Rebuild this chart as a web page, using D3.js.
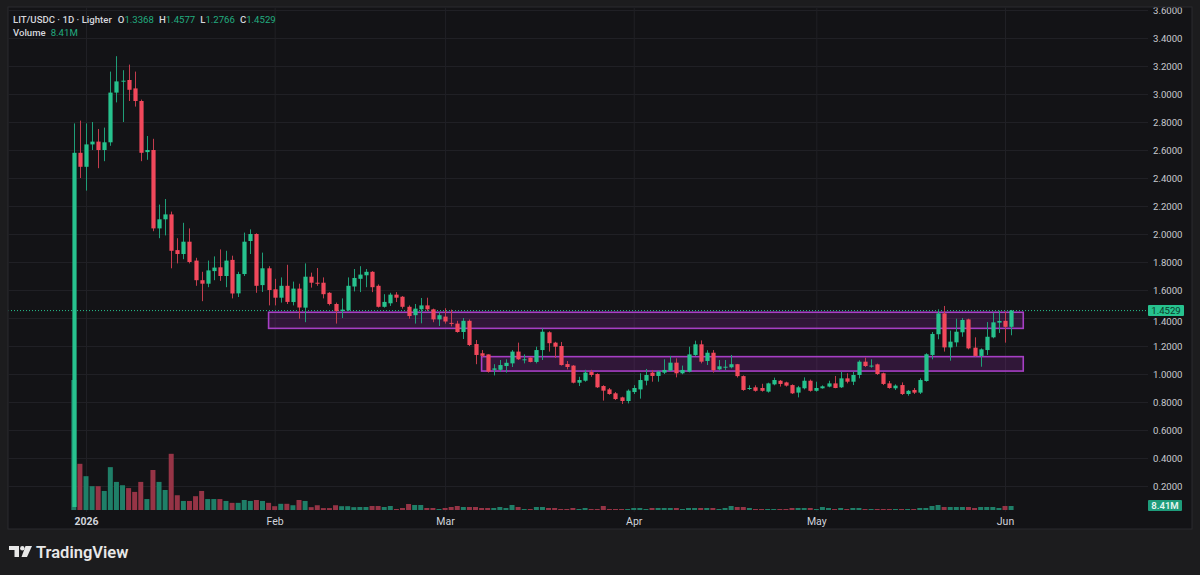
<!DOCTYPE html>
<html><head><meta charset="utf-8">
<script src="https://cdn.jsdelivr.net/npm/d3@7"></script>
<style>html,body{margin:0;padding:0;background:#1c1c1e;overflow:hidden}svg{display:block}</style>
</head><body>
<svg id="c" width="1200" height="575"></svg>
<script>
// ---------------- DATA ----------------
const firstDay = "2025-12-30"; // one candle per day from here
const openP  = [0.05,2.58,2.48,2.64,2.66,2.60,2.655,3.01,3.09,3.10,3.04,2.95,2.585,2.60,2.04,2.105,2.14,1.885,1.857,1.945,
1.81,1.67,1.645,1.735,1.762,1.70,1.815,1.576,1.714,1.95,2.0,1.635,1.755,1.605,1.545,1.63,1.514,1.61,1.474,1.695,
1.652,1.652,1.58,1.50,1.45,1.455,1.625,1.68,1.705,1.73,1.63,1.48,1.505,1.567,1.552,1.48,1.42,1.462,1.49,1.462,
1.39,1.41,1.365,1.36,1.30,1.38,1.214,1.148,1.14,1.03,1.03,1.057,1.076,1.16,1.10,1.117,1.086,1.171,1.298,1.224,
1.2,1.071,1.06,0.938,0.952,1.014,1.0,0.914,0.89,0.862,0.833,0.807,0.871,0.89,0.952,1.01,0.986,1.01,1.024,1.081,
1.005,1.017,1.136,1.212,1.093,1.152,1.033,1.047,1.048,1.07,0.985,0.895,0.905,0.90,0.874,0.926,0.952,0.94,0.921,0.867,
0.898,0.952,0.88,0.898,0.91,0.933,0.905,0.969,0.945,0.993,1.088,1.055,1.069,1.005,0.933,0.898,0.921,0.857,0.886,0.867,
0.95,1.136,1.284,1.433,1.19,1.226,1.298,1.39,1.188,1.129,1.171,1.262,1.367,1.38,1.3368];
const highP  = [2.79,2.81,2.79,2.80,2.75,2.76,3.16,3.27,3.17,3.21,3.16,2.96,2.70,2.68,2.21,2.25,2.16,1.97,2.08,2.04,
1.83,1.73,1.81,1.84,1.89,1.88,1.845,1.73,2.01,2.033,2.005,1.867,1.77,1.68,1.69,1.78,1.66,1.645,1.79,1.724,
1.757,1.69,1.585,1.51,1.54,1.69,1.75,1.77,1.75,1.735,1.64,1.57,1.58,1.585,1.557,1.49,1.50,1.543,1.545,1.467,
1.44,1.47,1.46,1.38,1.40,1.39,1.243,1.171,1.14,1.07,1.10,1.105,1.171,1.224,1.14,1.12,1.195,1.326,1.305,1.23,
1.229,1.093,1.064,0.98,1.03,1.03,1.005,0.92,0.90,0.871,0.838,0.89,0.92,1.005,1.036,1.029,1.024,1.105,1.129,1.112,
1.06,1.195,1.238,1.24,1.17,1.171,1.10,1.10,1.136,1.072,0.99,0.919,0.919,0.93,0.938,0.974,0.957,0.945,0.926,0.915,
0.976,0.96,0.945,0.919,0.952,0.986,1.016,1.005,1.016,1.098,1.117,1.105,1.074,1.01,0.95,0.926,0.94,0.886,0.90,0.969,
1.148,1.30,1.462,1.486,1.31,1.395,1.40,1.395,1.262,1.183,1.371,1.438,1.452,1.445,1.4577];
const lowP   = [0.05,2.40,2.31,2.60,2.47,2.52,2.63,2.94,2.80,2.95,2.91,2.52,2.53,2.02,1.97,1.99,1.755,1.79,1.82,1.79,
1.63,1.52,1.62,1.67,1.665,1.62,1.54,1.55,1.70,1.857,1.58,1.586,1.49,1.49,1.51,1.50,1.49,1.395,1.37,1.617,
1.63,1.54,1.49,1.36,1.40,1.45,1.59,1.585,1.62,1.585,1.475,1.474,1.486,1.514,1.467,1.395,1.36,1.362,1.45,1.37,
1.343,1.36,1.34,1.295,1.25,1.20,1.07,1.12,1.01,0.99,1.017,1.01,1.05,1.10,1.076,1.083,1.076,1.10,1.16,1.114,
1.06,1.033,0.933,0.914,0.945,0.98,0.90,0.81,0.852,0.814,0.786,0.79,0.857,0.824,0.919,0.945,0.945,1.0,1.02,0.976,
0.998,1.012,1.128,1.076,1.064,1.01,1.025,1.026,1.04,0.975,0.88,0.886,0.874,0.874,0.867,0.919,0.91,0.91,0.857,0.833,
0.89,0.874,0.874,0.895,0.905,0.898,0.90,0.933,0.921,0.969,1.05,1.045,0.993,0.921,0.895,0.886,0.85,0.845,0.857,0.857,
0.945,1.105,1.248,1.16,1.095,1.195,1.266,1.176,1.124,1.052,1.136,1.255,1.293,1.224,1.2766];
const closeP = [2.58,2.48,2.64,2.66,2.60,2.655,3.01,3.09,3.095,3.03,2.95,2.58,2.60,2.04,2.105,2.14,1.88,1.857,1.945,1.80,
1.67,1.645,1.74,1.76,1.70,1.81,1.575,1.714,1.945,2.0,1.63,1.755,1.60,1.545,1.63,1.515,1.61,1.475,1.695,1.652,
1.645,1.57,1.50,1.45,1.46,1.63,1.686,1.71,1.73,1.62,1.48,1.515,1.567,1.545,1.48,1.414,1.467,1.49,1.462,1.39,
1.42,1.375,1.358,1.30,1.38,1.207,1.136,1.13,1.017,1.04,1.064,1.08,1.16,1.105,1.105,1.086,1.171,1.302,1.22,1.195,
1.064,1.05,0.938,0.957,1.01,0.993,0.905,0.881,0.857,0.821,0.807,0.881,0.90,0.957,0.993,0.986,1.017,1.029,1.081,1.005,
1.029,1.14,1.212,1.088,1.152,1.027,1.055,1.052,1.07,0.985,0.886,0.90,0.88,0.88,0.933,0.957,0.929,0.917,0.862,0.905,
0.952,0.88,0.90,0.912,0.933,0.90,0.969,0.945,0.993,1.088,1.057,1.06,1.0,0.929,0.90,0.917,0.857,0.88,0.867,0.957,
1.141,1.286,1.433,1.19,1.231,1.302,1.386,1.183,1.129,1.176,1.266,1.369,1.379,1.3368,1.4529];
const volumeM = [273,97,71,50,50,40,90,59,52,46,38,59,23,84,59,42,118,31,19,19,
29,40,23,23,23,19,15,15,21,19,21,19,15,8,13,13,10,21,19,6,
10,4,4,10,8,8,6,6.3,6.3,8.4,8.4,6.3,8.4,2.1,4.2,12.6,10.5,10.5,4.2,4.2,
2.1,4.2,6.3,8.4,6.3,6.3,6.3,4.2,4.2,4.2,6.3,4.2,10.5,6.3,2.1,2.1,6.3,6.3,4.2,4.2,
2.1,2.1,4.2,2.1,4.2,2.1,2.1,8.4,2.1,2.1,2.1,2.1,4.2,4.2,2.1,4.2,4.2,4.2,4.2,4.2,
2.1,4.2,4.2,4.2,4.2,4.2,2.1,4.2,8.4,6.3,6.3,4.2,2.1,2.1,2.1,2.1,2.1,2.1,4.2,4.2,
4.2,4.2,2.1,6.3,4.2,2.1,4.2,2.1,4.2,4.2,2.1,2.1,2.1,2.1,2.1,2.1,2.1,2.1,2.1,4.2,
4.2,8.4,10.5,6.3,6.3,6.3,6.3,6.3,4.2,6.3,6.3,6.3,4.2,8.4,8.41];
const priceTicks = [3.6,3.4,3.2,3.0,2.8,2.6,2.4,2.2,2.0,1.8,1.6,1.4,1.2,1.0,0.8,0.6,0.4,0.2];
const monthTicks = ["2026-01-01","2026-02-01","2026-03-01","2026-04-01","2026-05-01","2026-06-01"];
const monthLabels = ["2026","Feb","Mar","Apr","May","Jun"];
const zoneStart = ["2026-01-31","2026-03-07"];
const zoneEnd   = ["2026-06-04","2026-06-04"];
const zoneLow   = [1.326,1.021];
const zoneHigh  = [1.441,1.124];
const symbolText = "LIT/USDC · 1D · Lighter";
const lastClose = 1.4529, lastVolumeText = "8.41M";

// ---------------- STYLE ----------------
const UP = "#27c28e", DN = "#f1485b", UPW = "#1f9e78", DNW = "#c23c4d";
const UPV = "#1f7f68", DNV = "#963446";
const svg = d3.select("#c");
const parse = d3.utcParse("%Y-%m-%d");
const d0 = parse(firstDay);
const candles = openP.map((o,i)=>({date:d3.utcDay.offset(d0,i),o,h:highP[i],l:lowP[i],c:closeP[i],v:volumeM[i]}));

const x = d3.scaleUtc().domain([parse("2026-01-01"), parse("2026-06-01")]).range([86,1005]);
const y = d3.scaleLinear().domain([0.2,3.6]).range([486,10]);
const vy = d3.scaleLinear().domain([0,273]).range([510,380]);

// background
svg.append("rect").attr("width",1200).attr("height",575).attr("fill","#1c1c1e");
svg.append("rect").attr("x",8).attr("y",7).attr("width",1184).attr("height",522)
  .attr("fill","#131316").attr("stroke","#2a2a2e").attr("stroke-width",1);
svg.append("defs").append("clipPath").attr("id","pane").append("rect")
  .attr("x",8.5).attr("y",7.5).attr("width",1183).attr("height",521);
svg.append("defs").append("clipPath").attr("id","plot").append("rect")
  .attr("x",8.5).attr("y",7.5).attr("width",1140).attr("height",505);

const root = svg.append("g").attr("clip-path","url(#pane)");

// grid
const gy = root.append("g").attr("transform","translate(1148,0)")
  .call(d3.axisLeft(y).tickValues(priceTicks).tickSize(1140).tickFormat(""));
gy.select(".domain").remove();
gy.selectAll("line").attr("stroke","#202025").attr("stroke-width",1);
const gx = root.append("g").attr("transform","translate(0,512)")
  .call(d3.axisTop(x).tickValues(monthTicks.map(parse)).tickSize(505).tickFormat(""));
gx.select(".domain").remove();
gx.selectAll("line").attr("stroke","#202025");

const plot = root.append("g").attr("clip-path","url(#plot)");

// volume
plot.append("g").selectAll("rect").data(candles).join("rect")
  .attr("x",d=>x(d.date)-2.5).attr("width",5)
  .attr("y",d=>vy(d.v)).attr("height",d=>vy(0)-vy(d.v))
  .attr("fill",d=>d.c>=d.o?UPV:DNV);

// zones
zoneStart.forEach((s,i)=>{
  plot.append("rect")
    .attr("x",x(parse(s))).attr("width",x(parse(zoneEnd[i]))-x(parse(s)))
    .attr("y",y(zoneHigh[i])).attr("height",y(zoneLow[i])-y(zoneHigh[i]))
    .attr("fill","rgba(156,39,176,0.22)").attr("stroke","#a63fc4").attr("stroke-width",1.6);
});

// current price line
plot.append("line").attr("x1",8).attr("x2",1148).attr("y1",y(lastClose)).attr("y2",y(lastClose))
  .attr("stroke","#27c28e").attr("stroke-width",1).attr("stroke-dasharray","1,2");

// candles
const cg = plot.append("g").selectAll("g").data(candles).join("g");
cg.append("line")
  .attr("x1",d=>Math.round(x(d.date))+0.5).attr("x2",d=>Math.round(x(d.date))+0.5)
  .attr("y1",d=>y(d.h)).attr("y2",d=>y(d.l))
  .attr("stroke",d=>d.c>=d.o?UPW:DNW).attr("stroke-width",1);
cg.append("rect")
  .attr("x",d=>Math.round(x(d.date))+0.5-2.1).attr("width",4.2)
  .attr("y",d=>y(Math.max(d.o,d.c))).attr("height",d=>Math.max(1,Math.abs(y(d.o)-y(d.c))))
  .attr("fill",d=>d.c>=d.o?UP:DN);

// price axis (the 1.4000 label sits partly under the last-price badge, as in the reference)
const ay = root.append("g").attr("transform","translate(1153,0)")
  .call(d3.axisRight(y).tickValues(priceTicks).tickSize(0).tickPadding(0).tickFormat(d3.format(".4f")));
ay.select(".domain").remove();
ay.selectAll("text").attr("fill","#c9cacf").attr("font-family","Roboto, sans-serif").attr("font-size","9.6px");
ay.selectAll(".tick").filter(d=>Math.abs(y(d)-y(lastClose))<12).select("text").attr("dy","0.7em");

// price label
root.append("rect").attr("x",1148).attr("y",y(lastClose)-5.5).attr("width",36).attr("height",11).attr("fill","#27c28e").attr("rx",1);
root.append("text").attr("x",1166).attr("y",y(lastClose)).attr("dy","0.35em").attr("text-anchor","middle")
  .attr("font-family","Roboto, sans-serif").attr("font-size","9.6px").attr("fill","#0c3a2c").text(d3.format(".4f")(lastClose));
// volume label
root.append("rect").attr("x",1148).attr("y",vy(8.41)-6).attr("width",34).attr("height",11).attr("fill","#1e9c7b").attr("rx",1);
root.append("text").attr("x",1165).attr("y",vy(8.41)-0.5).attr("dy","0.35em").attr("text-anchor","middle")
  .attr("font-family","Roboto, sans-serif").attr("font-size","9.6px").attr("font-weight",600).attr("fill","#e6f5ef").text(lastVolumeText);

// time axis
const ax = root.append("g").attr("transform","translate(0,512)")
  .call(d3.axisBottom(x).tickValues(monthTicks.map(parse)).tickSize(0).tickPadding(6).tickFormat((d,i)=>monthLabels[i]));
ax.select(".domain").remove();
ax.selectAll("text").attr("fill","#d1d4dc").attr("font-family","Roboto, sans-serif").attr("font-size","10.5px")
  .attr("font-weight",(d,i)=>i===0?700:400);

// legend
const lg = svg.append("text").attr("x",13).attr("y",22.5).attr("font-family","Roboto, sans-serif").attr("font-size","9.6px").attr("fill","#d6d7dc");
lg.append("tspan").attr("font-weight",500).text(symbolText);
const ohlc = [["O",1.3368],["H",1.4577],["L",1.2766],["C",1.4529]];
ohlc.forEach((p,i)=>{
  lg.append("tspan").attr("dx",i===0?6:5).attr("font-weight",500).attr("fill","#d6d7dc").text(p[0]);
  lg.append("tspan").attr("fill","#22ab7f").text(d3.format(".4f")(p[1]));
});
const lv = svg.append("text").attr("x",13).attr("y",35.5).attr("font-family","Roboto, sans-serif").attr("font-size","9.6px").attr("fill","#d6d7dc");
lv.append("tspan").attr("font-weight",500).text("Volume");
lv.append("tspan").attr("dx",5).attr("fill","#22ab7f").text(lastVolumeText);

// TradingView logo
const logo = svg.append("g").attr("fill","#e8e8e8");
logo.append("path").attr("d","M9,546 H19 V557 H14.5 V550 H9 Z");
logo.append("circle").attr("cx",22.3).attr("cy",548.2).attr("r",2.2);
logo.append("path").attr("d","M25.5,546 H32 L27,557 H21.5 Z");
svg.append("text").attr("x",36).attr("y",558).attr("font-family","Roboto, sans-serif").attr("font-size","16.5px")
  .attr("font-weight",600).attr("fill","#e8e8e8").text("TradingView");
</script>
</body></html>
